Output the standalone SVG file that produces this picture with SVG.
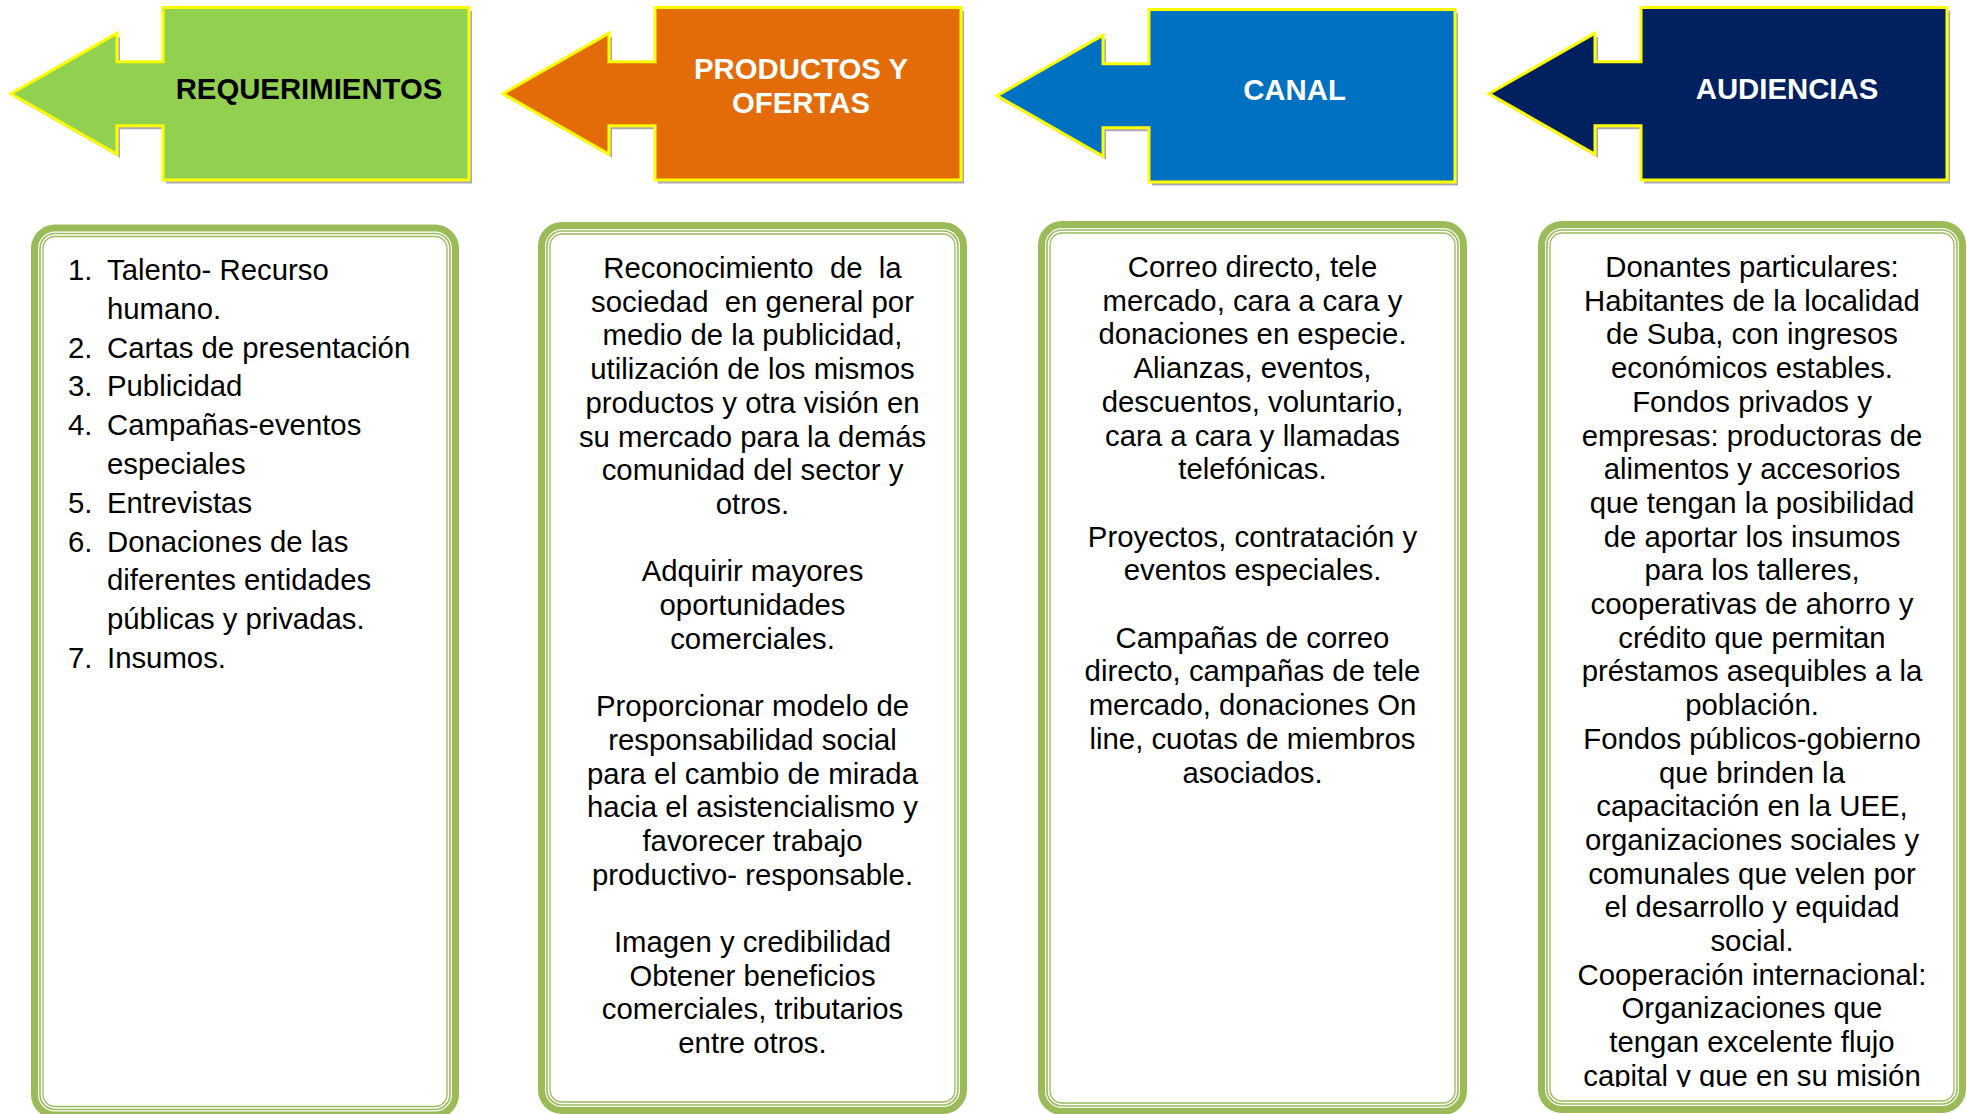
<svg xmlns="http://www.w3.org/2000/svg" width="1967" height="1114" viewBox="0 0 1967 1114">
<style>
.hdr{font-family:"Liberation Sans",Arial,sans-serif;font-weight:bold;font-size:29.33px;text-anchor:middle}
.body{font-family:"Liberation Sans",Arial,sans-serif;font-size:29.33px;fill:#000}
.mid{text-anchor:middle}
.pre{white-space:pre}
.arrow{stroke:#FFFF00;stroke-width:3;stroke-linejoin:miter}
.shadow{fill:#a39dac;opacity:0.9}
.frame{fill:#fff;stroke:#9BBB59;stroke-width:7}
.thin1{fill:none;stroke:#9BBB59;stroke-width:1.6}
.thin2{fill:none;stroke:#9BBB59;stroke-width:1.3}
</style>
<defs>
<path id="arr" d="M11,93.7 L117,33.2 L117,61.7 L163,61.7 L163,7.5 L469,7.5 L469,180 L163,180 L163,125.7 L117,125.7 L117,154.2 Z"/>
<clipPath id="clip4"><rect x="1538" y="221" width="430" height="866"/></clipPath>
</defs>
<rect width="1967" height="1114" fill="#fff"/>

<g id="requerimientos-header">
<use href="#arr" class="shadow" transform="translate(3,3.5)"/>
<use href="#arr" class="arrow" fill="#92D050"/>
<text class="hdr" x="309" y="99" fill="#000">REQUERIMIENTOS</text>
</g>
<g id="productos-header" transform="translate(492,0)">
<use href="#arr" class="shadow" transform="translate(3,3.5)"/>
<use href="#arr" class="arrow" fill="#E36C09"/>
<text class="hdr" x="309" y="79" fill="#fff">PRODUCTOS Y</text>
<text class="hdr" x="309" y="113" fill="#fff">OFERTAS</text>
</g>
<g id="canal-header" transform="translate(986,2)">
<use href="#arr" class="shadow" transform="translate(3,3.5)"/>
<use href="#arr" class="arrow" fill="#0070C0"/>
<text class="hdr" x="308.5" y="98" fill="#fff">CANAL</text>
</g>
<g id="audiencias-header" transform="translate(1478,0)">
<use href="#arr" class="shadow" transform="translate(3,3.5)"/>
<use href="#arr" class="arrow" fill="#002060"/>
<text class="hdr" x="309" y="99" fill="#fff">AUDIENCIAS</text>
</g>

<g id="connectors"/>

<g id="requerimientos-box">
<rect class="frame" x="34.5" y="228" width="421" height="887" rx="20.5"/>
<rect class="thin1" x="40" y="233.5" width="410" height="876" rx="15"/>
<rect class="thin2" x="43" y="236.5" width="404" height="870" rx="12"/>
<text class="body"><tspan x="68" y="280">1.</tspan><tspan x="107" y="280">Talento- Recurso</tspan><tspan
 x="107" y="318.8">humano.</tspan><tspan
 x="68" y="357.6">2.</tspan><tspan x="107" y="357.6">Cartas de presentación</tspan><tspan
 x="68" y="396.4">3.</tspan><tspan x="107" y="396.4">Publicidad</tspan><tspan
 x="68" y="435.2">4.</tspan><tspan x="107" y="435.2">Campañas-eventos</tspan><tspan
 x="107" y="474">especiales</tspan><tspan
 x="68" y="512.8">5.</tspan><tspan x="107" y="512.8">Entrevistas</tspan><tspan
 x="68" y="551.6">6.</tspan><tspan x="107" y="551.6">Donaciones de las</tspan><tspan
 x="107" y="590.4">diferentes entidades</tspan><tspan
 x="107" y="629.2">públicas y privadas.</tspan><tspan
 x="68" y="668">7.</tspan><tspan x="107" y="668">Insumos.</tspan></text>
</g>

<g id="productos-box">
<rect class="frame" x="541.5" y="225.5" width="422" height="885" rx="20.5"/>
<rect class="thin1" x="547" y="231" width="411" height="874" rx="15"/>
<rect class="thin2" x="550" y="234" width="405" height="868" rx="12"/>
<text class="body mid"><tspan class="pre" x="752.5" y="278">Reconocimiento  de  la</tspan><tspan
 class="pre" x="752.5" y="311.7">sociedad  en general por</tspan><tspan
 x="752.5" y="345.4">medio de la publicidad,</tspan><tspan
 x="752.5" y="379.1">utilización de los mismos</tspan><tspan
 x="752.5" y="412.8">productos y otra visión en</tspan><tspan
 x="752.5" y="446.5">su mercado para la demás</tspan><tspan
 x="752.5" y="480.2">comunidad del sector y</tspan><tspan
 x="752.5" y="513.9">otros.</tspan><tspan
 x="752.5" y="581.3">Adquirir mayores</tspan><tspan
 x="752.5" y="615">oportunidades</tspan><tspan
 x="752.5" y="648.7">comerciales.</tspan><tspan
 x="752.5" y="716.1">Proporcionar modelo de</tspan><tspan
 x="752.5" y="749.8">responsabilidad social</tspan><tspan
 x="752.5" y="783.5">para el cambio de mirada</tspan><tspan
 x="752.5" y="817.2">hacia el asistencialismo y</tspan><tspan
 x="752.5" y="850.9">favorecer trabajo</tspan><tspan
 x="752.5" y="884.6">productivo- responsable.</tspan><tspan
 x="752.5" y="952">Imagen y credibilidad</tspan><tspan
 x="752.5" y="985.7">Obtener beneficios</tspan><tspan
 x="752.5" y="1019.4">comerciales, tributarios</tspan><tspan
 x="752.5" y="1053.1">entre otros.</tspan></text>
</g>

<g id="canal-box">
<rect class="frame" x="1041.5" y="224.5" width="422" height="887" rx="20.5"/>
<rect class="thin1" x="1047" y="230" width="411" height="876" rx="15"/>
<rect class="thin2" x="1050" y="233" width="405" height="870" rx="12"/>
<text class="body mid"><tspan x="1252.5" y="277">Correo directo, tele</tspan><tspan
 x="1252.5" y="310.7">mercado, cara a cara y</tspan><tspan
 x="1252.5" y="344.4">donaciones en especie.</tspan><tspan
 x="1252.5" y="378.1">Alianzas, eventos,</tspan><tspan
 x="1252.5" y="411.8">descuentos, voluntario,</tspan><tspan
 x="1252.5" y="445.5">cara a cara y llamadas</tspan><tspan
 x="1252.5" y="479.2">telefónicas.</tspan><tspan
 x="1252.5" y="546.6">Proyectos, contratación y</tspan><tspan
 x="1252.5" y="580.3">eventos especiales.</tspan><tspan
 x="1252.5" y="647.7">Campañas de correo</tspan><tspan
 x="1252.5" y="681.4">directo, campañas de tele</tspan><tspan
 x="1252.5" y="715.1">mercado, donaciones On</tspan><tspan
 x="1252.5" y="748.8">line, cuotas de miembros</tspan><tspan
 x="1252.5" y="782.5">asociados.</tspan></text>
</g>

<g id="audiencias-box">
<rect class="frame" x="1541.5" y="224.5" width="421" height="885" rx="20.5"/>
<rect class="thin1" x="1547" y="230" width="410" height="874" rx="15"/>
<rect class="thin2" x="1550" y="233" width="404" height="868" rx="12"/>
<text class="body mid" clip-path="url(#clip4)"><tspan x="1752" y="277">Donantes particulares:</tspan><tspan
 x="1752" y="310.7">Habitantes de la localidad</tspan><tspan
 x="1752" y="344.4">de Suba, con ingresos</tspan><tspan
 x="1752" y="378.1">económicos estables.</tspan><tspan
 x="1752" y="411.8">Fondos privados y</tspan><tspan
 x="1752" y="445.5">empresas: productoras de</tspan><tspan
 x="1752" y="479.2">alimentos y accesorios</tspan><tspan
 x="1752" y="512.9">que tengan la posibilidad</tspan><tspan
 x="1752" y="546.6">de aportar los insumos</tspan><tspan
 x="1752" y="580.3">para los talleres,</tspan><tspan
 x="1752" y="614">cooperativas de ahorro y</tspan><tspan
 x="1752" y="647.7">crédito que permitan</tspan><tspan
 x="1752" y="681.4">préstamos asequibles a la</tspan><tspan
 x="1752" y="715.1">población.</tspan><tspan
 x="1752" y="748.8">Fondos públicos-gobierno</tspan><tspan
 x="1752" y="782.5">que brinden la</tspan><tspan
 x="1752" y="816.2">capacitación en la UEE,</tspan><tspan
 x="1752" y="849.9">organizaciones sociales y</tspan><tspan
 x="1752" y="883.6">comunales que velen por</tspan><tspan
 x="1752" y="917.3">el desarrollo y equidad</tspan><tspan
 x="1752" y="951">social.</tspan><tspan
 x="1752" y="984.7">Cooperación internacional:</tspan><tspan
 x="1752" y="1018.4">Organizaciones que</tspan><tspan
 x="1752" y="1052.1">tengan excelente flujo</tspan><tspan
 x="1752" y="1085.8">capital y que en su misión</tspan></text>
</g>
</svg>
